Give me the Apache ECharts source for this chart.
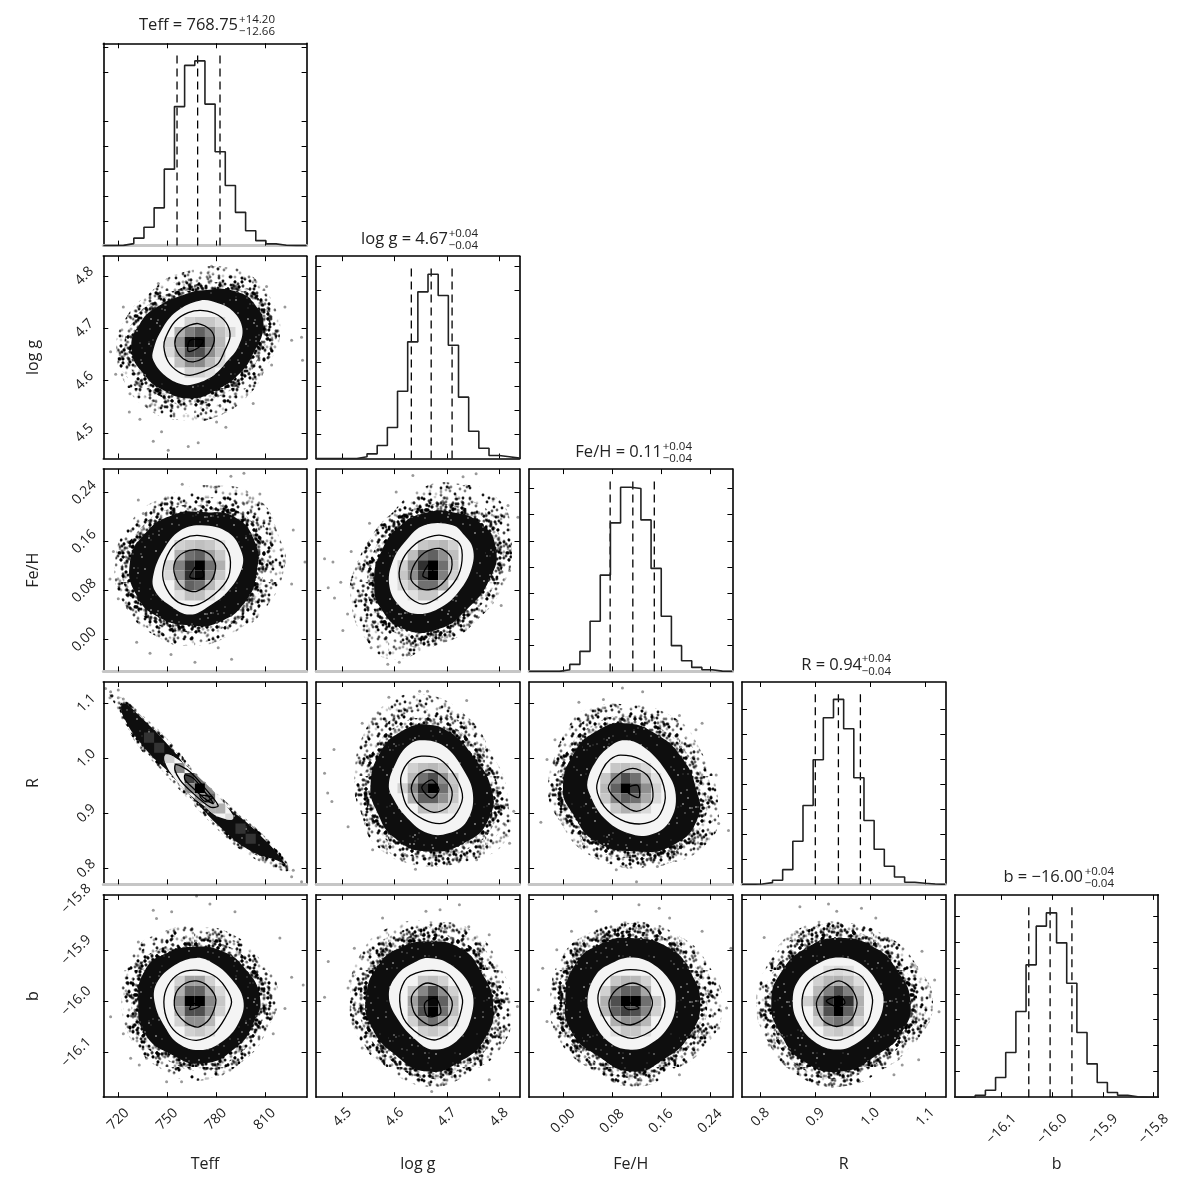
<!DOCTYPE html>
<html><head><meta charset="utf-8">
<style>html,body{margin:0;background:#fff}#c{width:1200px;height:1200px}</style>
<script src="https://cdn.jsdelivr.net/npm/echarts@6/dist/echarts.min.js"></script>
</head><body><div id="c"></div>
<script>
// ---------- parameters and tick labels ----------
const names=['Teff','log g','Fe/H','R','b'];
const xRanges=[[710.8,835.7],[4.45,4.839],[-0.0552,0.2764],[0.7667,1.1364],[-16.1916,-15.791]];
const yRanges=[null,[4.451,4.838],[-0.0518,0.2786],[0.7715,1.1387],[-16.187,-15.792]];
const ticks=[[720,750,780,810],[4.5,4.6,4.7,4.8],[0,0.08,0.16,0.24],[0.8,0.9,1.0,1.1],[-16.1,-16.0,-15.9,-15.8]];
const tickLabels=[['720','750','780','810'],['4.5','4.6','4.7','4.8'],['0.00','0.08','0.16','0.24'],['0.8','0.9','1.0','1.1'],['\u221216.1','\u221216.0','\u221215.9','\u221215.8']];
// ---------- histograms (20 bins) ----------
const histTeff=[0,5,40,150,370,760,1540,2800,3630,3720,2850,1890,1210,670,300,100,35,7,0,0];
const histLogg=[0,0,0,0,35,97,271,645,1402,2430,3472,3840,3396,2361,1278,569,215,62,35,7];
const histFeH=[0,0,0,32,134,384,960,1843,2842,3526,3500,2900,1971,1056,493,205,77,32,6,0];
const histR=[0,7,33,80,293,860,1574,2488,3328,3695,3108,2128,1274,700,360,147,40,20,7,0];
const histB=[0,0,39,135,381,865,1658,2561,3310,3568,2987,2206,1252,645,284,90,39,6,0,0];
const hists=[histTeff,histLogg,histFeH,histR,histB];
const histMax=[4075,4215,3872,4042,3915];
const histTicks=[[500,1000,1500,2000,2500,3500,4000],[500,1000,1500,2000,2500,3500,4000],[500,1000,1500,2000,2500,3000,3500],[500,1000,1500,2000,2500,3000,3500],[500,1000,1500,2000,2500,3000,3500]];
const quantiles=[[756.1,768.75,782.5],[4.632,4.67,4.71],[0.077,0.114,0.149],[0.9,0.942,0.982],[-16.046,-16.004,-15.961]];
// ---------- 2D panels: outlines (x,y,x,y,...) ----------
// log g vs Teff
const LT_A=[784.5,4.818,800.9,4.802,814.2,4.754,819.3,4.684,811.1,4.626,800.9,4.575,780.4,4.531,759.9,4.524,739.5,4.543,723.1,4.601,720,4.658,727.2,4.709,743.5,4.78,764,4.811];
const LT_B=[772.2,4.773,792.7,4.77,805,4.741,809.1,4.703,802.9,4.652,794.7,4.614,780.4,4.582,764,4.566,747.6,4.582,736.4,4.61,728.2,4.658,733.3,4.709,745.6,4.744,759.9,4.764];
const LT_H=[770,4.753,781.4,4.748,790.6,4.732,796.2,4.7,793.7,4.665,786.5,4.636,778.4,4.61,766.1,4.593,758.9,4.593,748.7,4.61,741.5,4.639,741.5,4.658,746.6,4.697,755.8,4.732];
const LT_1=[772.2,4.734,781.4,4.725,787.2,4.706,788.6,4.683,785.5,4.658,781.4,4.633,774.3,4.62,764,4.61,756.9,4.617,750.7,4.636,748,4.665,749.3,4.684,754.8,4.713,763,4.73];
const LT_2=[769.1,4.709,776.3,4.698,779,4.681,777.3,4.661,773.2,4.645,766.1,4.636,759.9,4.642,755.4,4.661,755.2,4.681,758.9,4.697,764,4.706];
const LT_3=[763,4.656,769.1,4.663,772.2,4.677,764,4.677];
const LT_F=[750.7,4.467,763,4.474,769.1,4.481,741.5,4.484,746.6,4.502,733.3,4.526,726.8,4.54,786.1,4.511,780.4,4.521,802.9,4.556,814.2,4.63,826.5,4.677,832.6,4.683,833.2,4.639,822.4,4.741,811.1,4.78,777.3,4.819,744.6,4.786,723.1,4.741,715.3,4.655,718.4,4.612,727.2,4.575];
const LT_C=[[6,8,18,22,22,15],[7,7,31,50,62,47,25,15],[8,6,18,44,94,97,56,28],[9,6,15,37,69,69,44,25],[10,7,25,44,46,28,15],[11,8,18,18,12]];
// Fe/H vs Teff
const FT_A=[781.4,.252,806,.23,819.3,.165,822.4,.121,810.1,.05,791.7,.012,767.1,-.01,742.5,.007,724.1,.056,718,.11,726.2,.187,750.7,.236];
const FT_B=[773.3,.208,791.7,.2,804,.159,805,.11,797.8,.061,781.4,.028,765.1,.023,744.6,.037,731.3,.072,727.2,.127,736.4,.173,752.8,.203];
const FT_H=[771.2,.187,787.6,.175,795.8,.143,795.8,.116,787.6,.08,776.3,.056,764,.041,751.8,.056,742.5,.08,741.5,.105,747.7,.146,757.9,.178];
const FT_1=[770.2,.17,783.5,.159,788.6,.135,787.6,.102,779.4,.075,767.1,.056,756.9,.061,749.7,.083,747.3,.11,751.8,.146,760,.165];
const FT_2=[768.1,.147,776.3,.139,779.8,.121,777.3,.097,768.1,.079,760,.084,754.8,.105,754.8,.127,760,.142];
const FT_3=[764,.102,772.2,.102,770.2,.124,767.1,.118];
const FT_F=[714.9,.099,720,.067,717,.144,732.3,.228,735.4,.206,759.3,.254,789.2,.267,797.2,.272,807,.238,827.5,.179,834.7,.127,826.5,.091,814.2,.097,781.4,-.013,767.1,-.037,752.4,-.024,739.5,-.022,731.3,-.004,789.6,-.032,779.4,.249];
const FT_C=[[7,7,18,22,25,22,12],[8,7,31,56,62,37,22],[9,6,18,50,81,100,56,31],[10,6,15,44,81,96,47,22],[11,7,28,62,56,28,12],[12,7,13,25,25,13]];
// Fe/H vs log g
const FL_A=[4.721,.255,4.798,.23,4.823,.17,4.81,.099,4.753,.034,4.676,-.004,4.6,-.032,4.549,-.004,4.517,.061,4.529,.127,4.587,.198,4.651,.247];
const FL_B=[4.711,.208,4.766,.189,4.794,.148,4.782,.099,4.74,.051,4.683,.017,4.619,.017,4.574,.051,4.561,.094,4.574,.143,4.612,.187,4.664,.208];
const FL_H=[4.711,.187,4.734,.17,4.75,.148,4.747,.116,4.724,.08,4.689,.053,4.644,.042,4.609,.056,4.59,.088,4.596,.127,4.622,.162,4.657,.187];
const FL_1=[4.692,.17,4.724,.157,4.729,.129,4.718,.099,4.689,.072,4.654,.058,4.625,.072,4.609,.102,4.616,.132,4.641,.157,4.667,.168];
const FL_2=[4.686,.149,4.708,.135,4.707,.11,4.683,.086,4.654,.082,4.632,.097,4.635,.118,4.657,.142];
const FL_3=[4.654,.104,4.673,.1,4.67,.124,4.664,.122];
const FL_F=[4.466,.132,4.482,.127,4.517,.144,4.473,.085,4.485,.068,4.497,.094,4.51,.042,4.555,-.013,4.552,.007,4.501,.015,4.587,-.04,4.609,-.037,4.628,-.024,4.756,.271,4.731,.266,4.635,.268,4.603,.241,4.552,.19,4.817,.219,4.836,.2,4.82,.113,4.804,.056];
const FL_C=[[7,10,22,25,28,18],[8,9,25,56,62,44,25],[9,8,18,47,81,100,56,22],[10,8,22,44,75,100,50,18],[11,8,15,25,56,56,31],[12,9,12,22,22]];
// R vs Teff
const RT_A=[714.9,1.121,733.3,1.082,753.8,1.024,768.1,.973,788.6,.915,809.1,.861,825.4,.8,819.3,.797,798.8,.827,782.4,.867,757.9,.942,743.5,.988,733.3,1.018,721,1.082];
const RT_B=[723.1,1.1,733.3,1.076,751.7,1.021,766.1,.97,784.5,.918,805,.867,822.4,.809,817.3,.815,800.9,.833,784.5,.87,764,.933,749.7,.979,737.4,1.015,723.1,1.076];
const RT_H=[749.3,1.007,755.8,1,768.1,.97,784.5,.921,790.6,.891,781.4,.894,772.2,.915,762,.939,753.8,.967,748.7,.994];
const RT_1=[755.4,.989,764,.976,773.2,.946,781.4,.914,776.3,.912,764,.942,757.9,.961,754.8,.979];
const RT_2=[761,.97,766.1,.964,773.2,.939,778.4,.918,773.2,.927,765,.949,761,.961];
const RT_3=[770.2,.933,778,.929,773.2,.922];
const RT_F=[712.2,1.127,715.3,1.121,720,1.124,714.9,1.11,720,1.11,723.1,1.108,827.5,.797,826.5,.785,832.6,.776,819.3,.803];
const RT_C=[[7,6,18],[8,7,46],[9,8,75,55],[10,8,45,100,45],[11,9,40,60],[12,10,30,31],[13,12,15]];
const RT_O=[[5,4,80],[6,5,80],[14,13,80],[15,14,80]];
// R vs log g
const RL_A=[4.656,1.116,4.726,1.086,4.781,1.019,4.82,.904,4.812,.849,4.75,.816,4.656,.807,4.57,.837,4.535,.904,4.523,.964,4.546,1.055,4.593,1.104];
const RL_B=[4.66,1.061,4.707,1.046,4.75,1.004,4.785,.946,4.781,.892,4.738,.849,4.664,.831,4.601,.855,4.566,.904,4.554,.952,4.574,1.013,4.613,1.049];
const RL_H=[4.652,1.033,4.695,1.022,4.73,.982,4.75,.934,4.738,.886,4.703,.864,4.664,.864,4.624,.892,4.597,.928,4.589,.952,4.601,.989,4.624,1.022];
const RL_1=[4.652,1.004,4.687,.998,4.718,.964,4.73,.928,4.714,.895,4.691,.882,4.656,.889,4.624,.913,4.613,.946,4.613,.97,4.628,.995];
const RL_2=[4.667,.979,4.695,.964,4.71,.94,4.703,.913,4.675,.902,4.644,.919,4.632,.946,4.644,.97];
const RL_3=[4.652,.947,4.671,.961,4.685,.943,4.671,.928];
const RL_F=[4.466,.973,4.472,.937,4.484,1.016,4.511,.876,4.527,.934,4.48,.922,4.558,.834,4.62,.825,4.648,1.122,4.663,1.122,4.687,1.092,4.738,1.105,4.589,1.111,4.538,1.064,4.812,.879,4.828,.904,4.757,.816,4.64,.799,4.671,.81,4.82,.846];
const RL_C=[[8,9,18,25,28,22],[9,9,28,56,69,44,22],[10,8,18,47,81,100,56,25],[11,9,31,62,62,44,22],[12,10,25,25,22,12]];
// R vs Fe/H
const RF_A=[.1,1.098,.174,1.079,.22,1.025,.254,.904,.227,.837,.154,.807,.08,.807,.027,.849,-.006,.904,-.02,.964,.014,1.067,.047,1.092];
const RF_B=[.1,1.064,.154,1.043,.194,1.001,.217,.946,.22,.892,.18,.843,.12,.831,.054,.849,.017,.898,0,.946,.02,1.013,.054,1.049];
const RF_H=[.1,1.033,.13,1.022,.167,.979,.184,.934,.174,.886,.144,.862,.107,.864,.067,.892,.044,.934,.04,.958,.054,.995,.077,1.022];
const RF_1=[.094,1.006,.127,.998,.157,.97,.167,.928,.154,.892,.127,.881,.094,.889,.067,.913,.055,.946,.064,.979,.077,.998];
const RF_2=[.114,.982,.137,.97,.146,.946,.144,.919,.12,.904,.094,.919,.074,.946,.09,.97];
const RF_3=[.104,.946,.122,.951,.124,.929,.107,.937];
const RF_F=[.066,1.107,.026,1.102,.097,1.128,.13,1.121,.19,1.078,.217,1.052,.227,1.064,.25,.97,.27,.869,.254,.882,.227,.846,.154,.804,.087,.798,.12,.776,-.013,1.034,-.026,.998,-.036,.884,.174,.816,.194,.843];
const RF_C=[[8,8,22,25,22,15],[9,7,22,47,69,56,28,12],[10,7,28,62,100,75,44,18],[11,7,22,47,62,56,34,15],[12,8,22,31,25,15]];
// b vs Teff
const BT_A=[768.1,-15.854,790.6,-15.87,809.1,-15.926,818.3,-15.984,811.1,-16.056,796.8,-16.115,772.2,-16.154,747.6,-16.134,729.2,-16.076,722,-15.997,729.2,-15.906,747.6,-15.864];
const BT_B=[768.1,-15.893,784.5,-15.903,796.8,-15.932,807,-15.991,802.9,-16.043,792.7,-16.089,772.2,-16.121,751.7,-16.102,736.4,-16.063,732.3,-16.004,736.4,-15.939,749.7,-15.906];
const BT_H=[768.1,-15.915,778.4,-15.926,788.6,-15.953,796.8,-15.997,793.7,-16.043,783.5,-16.079,770.2,-16.095,756.9,-16.082,748.7,-16.05,742.5,-16.004,743.5,-15.965,754.8,-15.929];
const BT_1=[768.1,-15.939,778.4,-15.949,785.5,-15.971,789.6,-16.001,785.5,-16.033,778.4,-16.063,768.1,-16.076,757.9,-16.066,750.7,-16.04,748,-16.001,750.7,-15.968,757.9,-15.945];
const BT_2=[768.1,-15.96,775.3,-15.971,780,-15.997,776.3,-16.033,769.1,-16.05,761,-16.04,754.8,-16.014,755.4,-15.984,761,-15.965];
const BT_3=[764,-16.016,770.2,-16.009,768.1,-16.004,765,-16.007];
const BT_F=[715.3,-16.03,727.6,-16.111,732.9,-16.124,737.4,-16.111,732.3,-15.884,743.5,-15.838,752.8,-15.825,768.1,-15.794,776.3,-15.81,791.7,-15.825,819.3,-15.876,826.5,-15.953,833.6,-15.968,822.4,-16.014,815.2,-16.063,758.9,-16.157,749.7,-16.157,788.6,-16.134,741.5,-15.822,723.1,-16.063];
const BT_C=[[8,7,18,37,37,18],[9,7,31,62,62,34,15],[10,7,44,100,100,47,22],[11,7,34,69,69,44,18],[12,7,18,44,44,28],[13,8,18,22,15]];
// b vs log g
const BL_A=[4.671,-15.844,4.75,-15.863,4.804,-15.935,4.824,-16.013,4.804,-16.091,4.742,-16.137,4.671,-16.156,4.593,-16.13,4.531,-16.072,4.515,-15.987,4.538,-15.902,4.593,-15.854];
const BL_B=[4.664,-15.883,4.726,-15.896,4.765,-15.941,4.789,-16.007,4.773,-16.072,4.726,-16.117,4.664,-16.137,4.601,-16.104,4.554,-16.046,4.546,-15.987,4.57,-15.928,4.609,-15.896];
const BL_H=[4.664,-15.915,4.707,-15.928,4.746,-15.974,4.746,-16.033,4.718,-16.078,4.675,-16.094,4.644,-16.078,4.605,-16.033,4.589,-15.987,4.605,-15.948,4.636,-15.925];
const BL_1=[4.66,-15.94,4.699,-15.945,4.722,-15.974,4.73,-16.003,4.714,-16.052,4.679,-16.075,4.648,-16.065,4.617,-16.033,4.61,-15.987,4.624,-15.954];
const BL_2=[4.664,-15.964,4.691,-15.974,4.71,-16,4.703,-16.029,4.671,-16.047,4.64,-16.026,4.632,-15.994,4.644,-15.974];
const BL_3=[4.658,-16.003,4.679,-15.994,4.688,-16.023,4.663,-16.029];
const BL_F=[4.466,-15.992,4.473,-15.922,4.515,-15.96,4.538,-16.091,4.523,-15.896,4.577,-15.837,4.687,-15.821,4.724,-15.811,4.66,-15.824,4.781,-15.87,4.835,-16.01,4.781,-16.153,4.671,-16.176,4.577,-16.117,4.742,-15.854,4.511,-15.974,4.71,-16.147];
const BL_C=[[8,10,22,25,18],[9,9,22,47,69,44,18],[10,9,37,69,97,62,28],[11,9,31,69,100,56,25],[12,9,18,44,56,37,15],[13,10,18,22,15]];
// b vs Fe/H
const BF_A=[.12,-15.844,.187,-15.87,.237,-15.928,.26,-16.013,.23,-16.091,.174,-16.137,.114,-16.156,.047,-16.134,0,-16.072,-.016,-15.994,0,-15.909,.054,-15.863];
const BF_B=[.11,-15.876,.174,-15.896,.207,-15.941,.224,-16.003,.207,-16.065,.167,-16.111,.114,-16.137,.054,-16.104,.014,-16.059,.004,-15.994,.02,-15.928,.06,-15.889];
const BF_H=[.11,-15.914,.144,-15.925,.177,-15.964,.184,-16,.174,-16.046,.14,-16.085,.107,-16.094,.074,-16.078,.05,-16.039,.04,-15.997,.054,-15.948,.08,-15.925];
const BF_1=[.11,-15.938,.14,-15.945,.16,-15.974,.166,-16.01,.15,-16.052,.114,-16.072,.084,-16.059,.064,-16.026,.057,-15.994,.064,-15.967,.084,-15.945];
const BF_2=[.114,-15.964,.137,-15.977,.146,-16.003,.137,-16.029,.11,-16.046,.084,-16.033,.075,-16.003,.087,-15.977];
const BF_3=[.102,-16,.124,-16.013,.107,-16.016,.1,-16.01];
const BF_F=[-.04,-15.977,-.026,-16.039,-.01,-15.899,.027,-16.117,.124,-15.811,.157,-15.818,.174,-15.837,.274,-15.896,.267,-16.013,.254,-16.052,.19,-16.143,.084,-16.156,-.033,-15.935,.227,-15.863,.014,-15.863,.054,-15.824];
const BF_C=[[8,8,22,28,28,18],[9,7,18,47,62,62,34],[10,7,31,69,100,100,56,22],[11,7,28,62,75,69,47,18],[12,8,31,44,44,28],[13,8,12,22,22,12]];
// b vs R
const BR_A=[.939,-15.844,1.036,-15.876,1.088,-15.935,1.114,-16,1.088,-16.072,1.028,-16.13,.939,-16.163,.857,-16.13,.813,-16.072,.798,-15.994,.82,-15.915,.872,-15.857];
const BR_B=[.943,-15.876,1.01,-15.896,1.05,-15.941,1.073,-16,1.058,-16.059,1.013,-16.104,.946,-16.137,.879,-16.117,.835,-16.059,.82,-16,.839,-15.941,.883,-15.896];
const BR_H=[.943,-15.914,.984,-15.928,1.017,-15.971,1.024,-16.003,1.01,-16.046,.976,-16.081,.939,-16.094,.898,-16.078,.868,-16.039,.859,-16,.868,-15.961,.902,-15.928];
const BR_1=[.943,-15.937,.98,-15.948,.998,-15.974,1.004,-16.003,.991,-16.046,.946,-16.075,.909,-16.068,.883,-16.036,.876,-15.997,.887,-15.964,.913,-15.945];
const BR_2=[.943,-15.96,.965,-15.974,.976,-16.003,.965,-16.036,.939,-16.049,.913,-16.036,.902,-16.003,.918,-15.974];
const BR_3=[.92,-15.999,.945,-15.99,.954,-16.003,.939,-16.01];
const BR_F=[.807,-15.875,.924,-15.81,.984,-15.818,1.01,-15.837,.872,-15.815,1.088,-16.114,1.058,-16.124,1.117,-15.958,1.094,-15.902,.931,-16.166,.98,-16.156,.865,-16.127,.816,-16.085,1.043,-16.143,1.125,-16.02,.939,-15.824];
const BR_C=[[7,8,12,15,12],[8,7,18,28,31,25,13],[9,7,28,50,69,50,25],[10,6,18,44,81,100,81,31],[11,7,31,69,100,62,28],[12,7,18,47,56,44,18],[13,8,18,22,15]];
const panels=[
 [1,0,LT_A,LT_B,LT_H,LT_1,LT_2,LT_3,LT_F,LT_C],
 [2,0,FT_A,FT_B,FT_H,FT_1,FT_2,FT_3,FT_F,FT_C],
 [2,1,FL_A,FL_B,FL_H,FL_1,FL_2,FL_3,FL_F,FL_C],
 [3,0,RT_A,RT_B,RT_H,RT_1,RT_2,RT_3,RT_F,RT_C],
 [3,1,RL_A,RL_B,RL_H,RL_1,RL_2,RL_3,RL_F,RL_C],
 [3,2,RF_A,RF_B,RF_H,RF_1,RF_2,RF_3,RF_F,RF_C],
 [4,0,BT_A,BT_B,BT_H,BT_1,BT_2,BT_3,BT_F,BT_C],
 [4,1,BL_A,BL_B,BL_H,BL_1,BL_2,BL_3,BL_F,BL_C],
 [4,2,BF_A,BF_B,BF_H,BF_1,BF_2,BF_3,BF_F,BF_C],
 [4,3,BR_A,BR_B,BR_H,BR_1,BR_2,BR_3,BR_F,BR_C]
];
const titles=[
 ['Teff = 768.75',238,275,25.5,'+14.20','\u221212.66'],
 ['log g = 4.67',448,478,239.5,'+0.04','\u22120.04'],
 ['Fe/H = 0.11',662,692,452.5,'+0.04','\u22120.04'],
 ['R = 0.94',862,891,665,'+0.04','\u22120.04'],
 ['b = \u221216.00',1083,1114,877.5,'+0.04','\u22120.04']
];
// ---------- layout and styles ----------
const L0=103.3,T0=43.3,PITCH=212.9,W=203.3,H=202.3;
const FONT='"Open Sans",sans-serif',INK='#222';
const xMargins=[22,20,24,20,32],yMargins=[0,19,19,17,27];
const grayBottomRows=[0,2,3];
const pairs=f=>{const o=[];for(let i=0;i<f.length;i+=2)o.push([f[i],f[i+1]]);return o;};
// speckle fill patterns for the densely overplotted parts of the clouds (a texture, not data)
function speckle(count,bg,rgb,r){
  const S=97,cv=document.createElement('canvas');cv.width=S;cv.height=S;
  const ctx=cv.getContext('2d');
  if(bg){ctx.fillStyle=bg;ctx.fillRect(0,0,S,S);}
  const alphas=[.35,.65,.9,.2,.5];
  for(let i=1;i<=count;i++){
    const k=Math.floor(i/S),j=i%S;
    const x=(j*41+j*j*7+k*17)%S,y=(j*59+j*j*j*3+k*k*31)%S;
    ctx.fillStyle=`rgba(${rgb},${alphas[i%5]})`;
    ctx.beginPath();ctx.arc(x,y,r,0,6.3);ctx.fill();
  }
  return {image:cv,repeat:'repeat'};
}
const texSparse=speckle(400,null,'0,0,0',1.4),texMid=speckle(560,null,'0,0,0',1.4),texDense=speckle(1100,null,'0,0,0',1.5),texCore=speckle(110,'#0e0e0e','150,150,150',1);
const grid=[],xAxis=[],yAxis=[],series=[],graphic=[];
function mkAxis(g,pos,rng,tv,gray){
  return {type:'value',gridIndex:g,position:pos,min:rng[0],max:rng[1],splitLine:{show:false},
    axisLine:{show:true,onZero:false,lineStyle:{color:gray?'#c6c6c6':'#000',width:gray?3:1.6}},
    axisTick:{show:true,inside:true,length:5,customValues:tv,lineStyle:{color:'#000',width:1}},
    axisLabel:{show:false}};
}
function labelOpts(i,margin,extra){
  const labs=tickLabels[i],tv=ticks[i];
  return Object.assign({show:true,customValues:tv,rotate:45,align:'center',verticalAlign:'middle',margin,
    fontFamily:FONT,fontSize:14,color:INK,formatter:v=>labs[tv.findIndex(t=>Math.abs(t-v)<1e-6)]},extra||{});
}
function addGrid(r,c){
  const g=grid.length;
  grid.push({left:L0+c*PITCH,top:T0+r*PITCH,width:W,height:H,containLabel:false});
  const xr=xRanges[c],yr=r===c?[0,histMax[c]]:yRanges[r],yt=r===c?histTicks[c]:ticks[r];
  const bottom=mkAxis(g,'bottom',xr,ticks[c],grayBottomRows.includes(r));
  const left=mkAxis(g,'left',yr,yt,false);
  if(r===4){
    bottom.axisLabel=labelOpts(c,xMargins[c]);
    bottom.name=names[c];bottom.nameLocation='middle';bottom.nameGap=59;
    bottom.nameTextStyle={fontFamily:FONT,fontSize:16,color:INK};
  }
  if(c===0&&r>0){
    left.axisLabel=labelOpts(r,yMargins[r],{padding:[0,0,14,0]});
    left.name=names[r];left.nameLocation='middle';left.nameGap=62;left.nameRotate=90;
    left.nameTextStyle={fontFamily:FONT,fontSize:16,color:INK};
  }
  xAxis.push(bottom,mkAxis(g,'top',xr,ticks[c],false));
  yAxis.push(left,mkAxis(g,'right',yr,yt,false));
  return g;
}
function poly(g,flat,style,z,smooth){
  const pts=pairs(flat);
  return {type:'custom',coordinateSystem:'cartesian2d',xAxisIndex:2*g,yAxisIndex:2*g,z,silent:true,clip:true,
    data:[pts[0]],renderItem:(p,api)=>({type:'polygon',shape:{points:pts.map(q=>api.coord(q)),smooth},style})};
}
function cellSeries(g,r,c,rows,clipFlat,z){
  const xr=xRanges[c],yr=yRanges[r],dx=(xr[1]-xr[0])/20,dy=(yr[1]-yr[0])/20,data=[];
  rows.forEach(row=>{for(let k=2;k<row.length;k++){
    const ix=row[1]+k-2,it=row[0];
    data.push([xr[0]+ix*dx,yr[1]-it*dy,xr[0]+(ix+1)*dx,yr[1]-(it+1)*dy,row[k]]);
  }});
  const clipPts=pairs(clipFlat);
  return {type:'custom',coordinateSystem:'cartesian2d',xAxisIndex:2*g,yAxisIndex:2*g,z,silent:true,clip:true,data,
    renderItem:(p,api)=>{
      const a=api.coord([api.value(0),api.value(1)]),b=api.coord([api.value(2),api.value(3)]);
      const v=Math.round(255*(1-api.value(4)/100));
      return {type:'rect',shape:{x:a[0],y:a[1],width:b[0]-a[0],height:b[1]-a[1]},
        style:{fill:`rgb(${v},${v},${v})`},
        clipPath:{type:'polygon',shape:{points:clipPts.map(q=>api.coord(q)),smooth:0.4}}};
    }};
}
// diagonal panels
for(let i=0;i<5;i++){
  const g=addGrid(i,i),xr=xRanges[i],dx=(xr[1]-xr[0])/20,h=hists[i];
  const pts=h.map((v,k)=>[xr[0]+k*dx,v]);pts.push([xr[1],h[19]]);
  series.push({type:'line',step:'end',xAxisIndex:2*g,yAxisIndex:2*g,data:pts,symbol:'none',silent:true,z:4,
    lineStyle:{color:'#222',width:1.6}});
  const topV=Math.max(...h)*1.05;
  quantiles[i].forEach(q=>series.push({type:'line',xAxisIndex:2*g,yAxisIndex:2*g,data:[[q,0],[q,topV]],symbol:'none',silent:true,z:3,
    lineStyle:{color:'#000',width:1.3,type:[8,5]}}));
  const t=titles[i];
  const txt=(text,x,y,size)=>graphic.push({type:'text',x,y,silent:true,style:{text,fontFamily:FONT,fontSize:size,fill:INK,textAlign:'right',textVerticalAlign:'middle'}});
  txt(t[0],t[1],t[3],16.5);txt(t[4],t[2],t[3]-6,11.5);txt(t[5],t[2],t[3]+6.5,11.5);
}
// off-diagonal panels
panels.forEach(P=>{
  const [r,c,A,B,Ho,C1,C2,C3,F,Cells]=P;
  const g=addGrid(r,c);
  const strip=(r===3&&c===0);
  series.push(poly(g,A,{fill:strip?texMid:texSparse},5,0.5));
  series.push({type:'scatter',xAxisIndex:2*g,yAxisIndex:2*g,data:pairs(F),symbolSize:3,silent:true,z:7,itemStyle:{color:'rgba(0,0,0,0.5)'}});
  series.push(poly(g,B,{fill:'none',stroke:texMid,lineWidth:strip?5:30,lineJoin:'round'},8,0.5));
  series.push(poly(g,B,{fill:'none',stroke:texDense,lineWidth:strip?3:14,lineJoin:'round'},8.5,0.5));
  series.push(poly(g,B,{fill:texCore},9,0.5));
  series.push(poly(g,Ho,{fill:'#f4f4f4'},10,0.4));
  series.push(cellSeries(g,r,c,Cells,Ho,11));
  if(strip) series.push(cellSeries(g,r,c,RT_O,B,11));
  [C1,C2,C3].forEach(C=>series.push(poly(g,C,{fill:'none',stroke:'#000',lineWidth:1.3},12,0.3)));
});
const chart=echarts.init(document.getElementById('c'),null,{renderer:'canvas',width:1200,height:1200});
chart.setOption({animation:false,backgroundColor:'#fff',grid,xAxis,yAxis,series,graphic:{elements:graphic}});
</script>
</body></html>
